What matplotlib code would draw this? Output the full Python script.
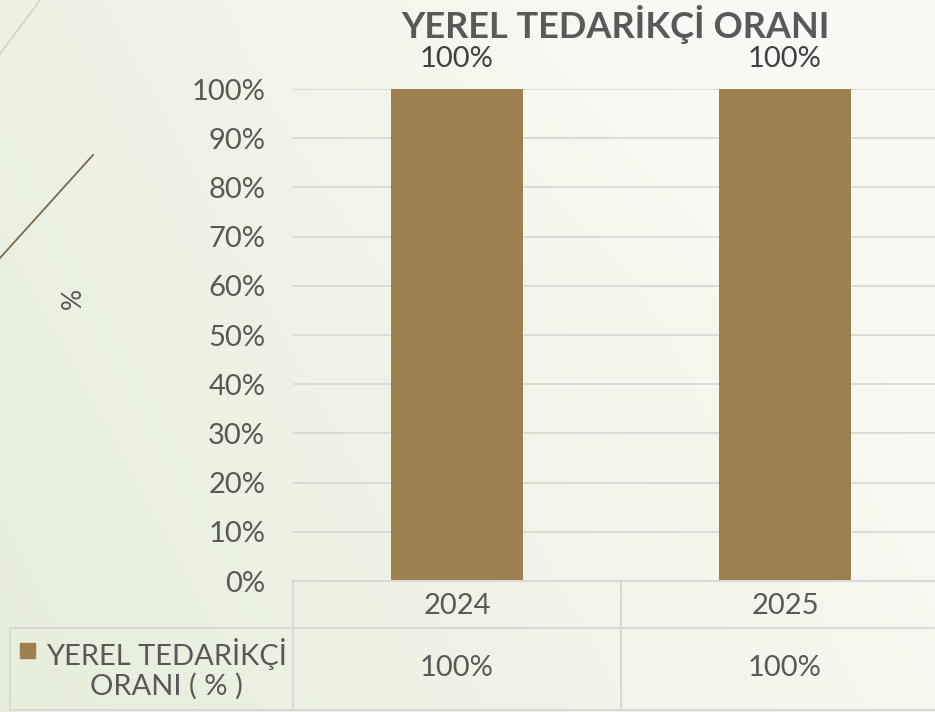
import numpy as np
import matplotlib
matplotlib.use("Agg")
import matplotlib.pyplot as plt
from matplotlib.lines import Line2D
from matplotlib.patches import Rectangle
import matplotlib.transforms as mtransforms

plt.rcParams['font.family'] = ['Lato', 'DejaVu Sans']

# ---- data ----
categories = ["2024", "2025"]
values = [1.00, 1.00]
series_name = "YEREL TEDARİKÇİ\nORANI ( % )"
title = "YEREL TEDARİKÇİ ORANI"
yticks = [0, 0.1, 0.2, 0.3, 0.4, 0.5, 0.6, 0.7, 0.8, 0.9, 1.0]
ytick_labels = ["0%", "10%", "20%", "30%", "40%", "50%", "60%", "70%", "80%", "90%", "100%"]
value_labels = ["100%", "100%"]

W, H = 935, 712
fig = plt.figure(figsize=(W / 100, H / 100), dpi=100)

# ---- background gradient ----
bg = fig.add_axes([0, 0, 1, 1], zorder=-10)
bg.set_axis_off()
xx, yy = np.meshgrid(np.linspace(0, 1, 300), np.linspace(0, 1, 300))
left_col = np.array([0.905, 0.933, 0.855])
right_col = np.array([0.975, 0.978, 0.955])
top_col = np.array([0.985, 0.985, 0.975])
t = np.clip(xx * 0.85 + (1 - yy) * 0.35, 0, 1)
img = left_col[None, None, :] * (1 - t[..., None]) + right_col[None, None, :] * t[..., None]
s = np.clip((1 - yy) * 1.0 - 0.6, 0, 1)[..., None] * np.clip(xx * 1.6 - 0.3, 0, 1)[..., None]
img = img * (1 - s) + top_col * s
bg.imshow(img, extent=[0, 1, 0, 1], aspect='auto', origin='upper')
bg.set_xlim(0, 1)
bg.set_ylim(0, 1)

def fx(px):
    return px / W
def fy(py):
    return 1 - py / H

# decorative lines
fig.add_artist(Line2D([fx(0), fx(40)], [fy(54), fy(0)], color='#d4d4cc', lw=1.2))
fig.add_artist(Line2D([fx(0), fx(93)], [fy(258), fy(155)], color='#7a6a4a', lw=1.3))

# ---- main axes ----
ax_left, ax_right = 293, 949
ax_top, ax_bottom = 89, 581
ax = fig.add_axes([fx(ax_left), fy(ax_bottom), (ax_right - ax_left) / W, (ax_bottom - ax_top) / H])
ax.patch.set_alpha(0)
x = np.arange(len(categories))
bar_color = '#9E7F4E'
ax.bar(x, values, width=0.4, color=bar_color, zorder=3)
ax.set_xlim(-0.5, len(categories) - 0.5)
ax.set_ylim(0, 1)
ax.set_yticks(yticks)
ax.set_yticklabels(ytick_labels, fontsize=21, color='#595959')
ax.tick_params(axis='y', length=0, pad=20)
ax.set_xticks([])
for sp in ax.spines.values():
    sp.set_visible(False)
ax.grid(axis='y', color='#d9d9d9', lw=1.3, zorder=0)
ax.set_axisbelow(True)

for xi, v, lab in zip(x, values, value_labels):
    ax.annotate(lab, (xi, v), xytext=(0, 12), textcoords='offset points',
                ha='center', va='bottom', fontsize=21, color='#404040')

# y-axis title
fig.text(fx(73), fy(298), '%', rotation=90, ha='center', va='center',
         fontsize=19, color='#595959')

# title
fig.text(fx(615), fy(24), title, ha='center', va='center', fontsize=26,
         fontweight='bold', color='#595959')

# ---- data table ----
gc = '#d9d9d9'
row1_top, row_mid, row_bot = 581, 628, 710
tab_left = 10
fig.add_artist(Line2D([fx(ax_left), 1], [fy(row1_top)] * 2, color=gc, lw=1.5))
fig.add_artist(Line2D([fx(tab_left), 1], [fy(row_mid)] * 2, color=gc, lw=1.5))
fig.add_artist(Line2D([fx(tab_left), 1], [fy(row_bot)] * 2, color=gc, lw=1.5))
fig.add_artist(Line2D([fx(tab_left)] * 2, [fy(row_mid), fy(row_bot)], color=gc, lw=1.5))
fig.add_artist(Line2D([fx(ax_left)] * 2, [fy(row1_top), fy(row_bot)], color=gc, lw=1.5))
trans = mtransforms.blended_transform_factory(ax.transData, fig.transFigure)
for xb in np.arange(len(categories) - 1) + 0.5:
    fig.add_artist(Line2D([xb, xb], [fy(row1_top), fy(row_bot)], color=gc, lw=1.5,
                          transform=trans))

for xi, cat, lab in zip(x, categories, value_labels):
    fig.text(xi, fy(606), cat, transform=trans, ha='center', va='center',
             fontsize=21, color='#595959')
    fig.text(xi, fy(668), lab, transform=trans, ha='center', va='center',
             fontsize=21, color='#595959')

fig.add_artist(Rectangle((fx(20), fy(658)), 15 / W, 15 / H, color=bar_color,
                         transform=fig.transFigure))
fig.text(fx(166), fy(669), series_name, ha='center', va='center', fontsize=21,
         color='#595959', linespacing=1.1)

fig.savefig('out.png', dpi=100)
